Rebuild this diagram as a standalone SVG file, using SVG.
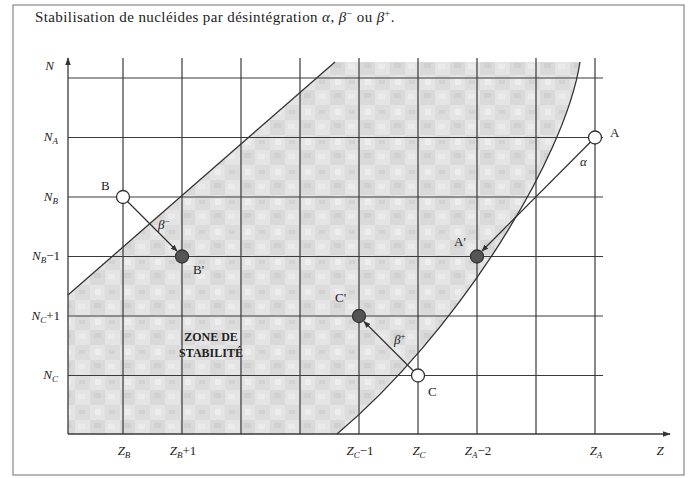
<svg xmlns="http://www.w3.org/2000/svg" width="691" height="478" viewBox="0 0 691 478">
<style>
.frame{fill:#fff;stroke:#888;stroke-width:1.2}
.grid{stroke:#3a3a3a;stroke-width:1.2;fill:none}
.axis{stroke:#3a3a3a;stroke-width:1.3;fill:none}
.bound{stroke:#333;stroke-width:1.3;fill:none}
.conn{stroke:#333;stroke-width:1.3;fill:none}
.t{font-family:"Liberation Serif","Times New Roman",serif;fill:#222}
.lab{font-family:"Liberation Serif","Times New Roman",serif;font-size:13px;fill:#222}
.it{font-style:italic}
.open{fill:#fff;stroke:#333;stroke-width:1.3}
.full{fill:#555;stroke:#333;stroke-width:1.3}
.zone{font-family:"Liberation Serif","Times New Roman",serif;font-size:12px;font-weight:bold;fill:#222}
</style>
<defs>
<pattern id="mottle" x="0" y="0" width="30" height="30" patternUnits="userSpaceOnUse">
<rect width="30" height="30" fill="#e4e4e4"/>
<rect x="0" y="0" width="15" height="15" fill="#d9d9d9"/>
<rect x="15" y="15" width="15" height="15" fill="#dcdcdc"/>
<rect x="4" y="3" width="7" height="5" fill="#d0d0d0"/>
<rect x="18" y="4" width="7" height="5" fill="#ebebeb"/>
<rect x="5" y="19" width="6" height="6" fill="#ededed"/>
<rect x="19" y="20" width="6" height="4" fill="#d2d2d2"/>
</pattern>
<marker id="ah" viewBox="0 0 10 10" refX="9" refY="5" markerWidth="7" markerHeight="7" orient="auto" markerUnits="userSpaceOnUse">
<path d="M0,1 L10,5 L0,9 z" fill="#333"/>
</marker>
<marker id="axh" viewBox="0 0 10 10" refX="9" refY="5" markerWidth="8" markerHeight="8" orient="auto" markerUnits="userSpaceOnUse">
<path d="M0,1.5 L10,5 L0,8.5 z" fill="#333"/>
</marker>
</defs>
<rect class="frame" x="13" y="5" width="671" height="470"/>
<text class="t" x="35" y="22" font-size="15" letter-spacing="0.4">Stabilisation de nucléides par désintégration <tspan class="it">α</tspan>, <tspan class="it">β</tspan><tspan font-size="10" dy="-5">−</tspan><tspan dy="5"> ou </tspan><tspan class="it">β</tspan><tspan font-size="10" dy="-5">+</tspan><tspan dy="5">.</tspan></text>

<g id="zone">
<path d="M68,295 L335,62 L580,62 C565,160 455,335 337,434 L68,434 Z" fill="url(#mottle)"/>
</g>

<g id="grid">
<path class="grid" d="M123,58V434 M182,58V434 M241,58V434 M300,58V434 M359,58V434 M418,58V434 M477,58V434 M536,58V434 M595,58V434"/>
<path class="grid" d="M68,78H603 M68,137.5H603 M68,197H603 M68,256.5H603 M68,316H603 M68,375.5H603"/>
</g>

<g id="axes">
<line class="axis" x1="68" y1="434" x2="68" y2="58" marker-end="url(#axh)"/>
<line class="axis" x1="68" y1="434" x2="670" y2="434" marker-end="url(#axh)"/>
</g>

<g id="boundaries">
<path class="bound" d="M68,295 L335,62"/>
<path class="bound" d="M580,62 C565,160 455,335 337,434"/>
</g>

<g id="ylabels" class="lab it" text-anchor="end">
<text x="54" y="70">N</text>
<text x="58" y="141">N<tspan font-size="9" dy="3">A</tspan></text>
<text x="58" y="201">N<tspan font-size="9" dy="3">B</tspan></text>
<text x="60" y="260">N<tspan font-size="9" dy="3">B</tspan><tspan dy="-3" font-style="normal">−1</tspan></text>
<text x="60" y="320">N<tspan font-size="9" dy="3">C</tspan><tspan dy="-3" font-style="normal">+1</tspan></text>
<text x="58" y="379">N<tspan font-size="9" dy="3">C</tspan></text>
</g>

<g id="xlabels" class="lab it" text-anchor="middle">
<text x="124" y="455">Z<tspan font-size="9" dy="3">B</tspan></text>
<text x="183" y="455">Z<tspan font-size="9" dy="3">B</tspan><tspan dy="-3" font-style="normal">+1</tspan></text>
<text x="360" y="455">Z<tspan font-size="9" dy="3">C</tspan><tspan dy="-3" font-style="normal">−1</tspan></text>
<text x="419" y="455">Z<tspan font-size="9" dy="3">C</tspan></text>
<text x="478" y="455">Z<tspan font-size="9" dy="3">A</tspan><tspan dy="-3" font-style="normal">−2</tspan></text>
<text x="596" y="455">Z<tspan font-size="9" dy="3">A</tspan></text>
<text x="660" y="455">Z</text>
</g>

<g id="connectors">
<line class="conn" x1="595" y1="137.5" x2="482" y2="251" marker-end="url(#ah)"/>
<line class="conn" x1="123" y1="197" x2="177" y2="251" marker-end="url(#ah)"/>
<line class="conn" x1="418" y1="375.5" x2="364" y2="321.5" marker-end="url(#ah)"/>
<text class="lab it" x="580" y="166">α</text>
<text class="lab it" x="158" y="229">β<tspan font-size="9" dy="-5" font-style="normal">−</tspan></text>
<text class="lab it" x="394" y="344">β<tspan font-size="9" dy="-5" font-style="normal">+</tspan></text>
</g>

<g id="node-A"><circle class="open" cx="595" cy="137.5" r="6.5"/><text class="lab" x="610" y="137">A</text></g>
<g id="node-A-prime"><circle class="full" cx="477" cy="256.5" r="6.5"/><text class="lab" x="454" y="246">A'</text></g>
<g id="node-B"><circle class="open" cx="123" cy="197" r="6.5"/><text class="lab" x="101" y="190">B</text></g>
<g id="node-B-prime"><circle class="full" cx="182" cy="256.5" r="6.5"/><text class="lab" x="193" y="274">B'</text></g>
<g id="node-C"><circle class="open" cx="418" cy="375.5" r="6.5"/><text class="lab" x="428" y="396">C</text></g>
<g id="node-C-prime"><circle class="full" cx="359" cy="316" r="6.5"/><text class="lab" x="335" y="302">C'</text></g>

<g id="zone-label" class="zone" text-anchor="middle">
<text x="211" y="341">ZONE DE</text>
<text x="211" y="357">STABILITÉ</text>
</g>
</svg>
